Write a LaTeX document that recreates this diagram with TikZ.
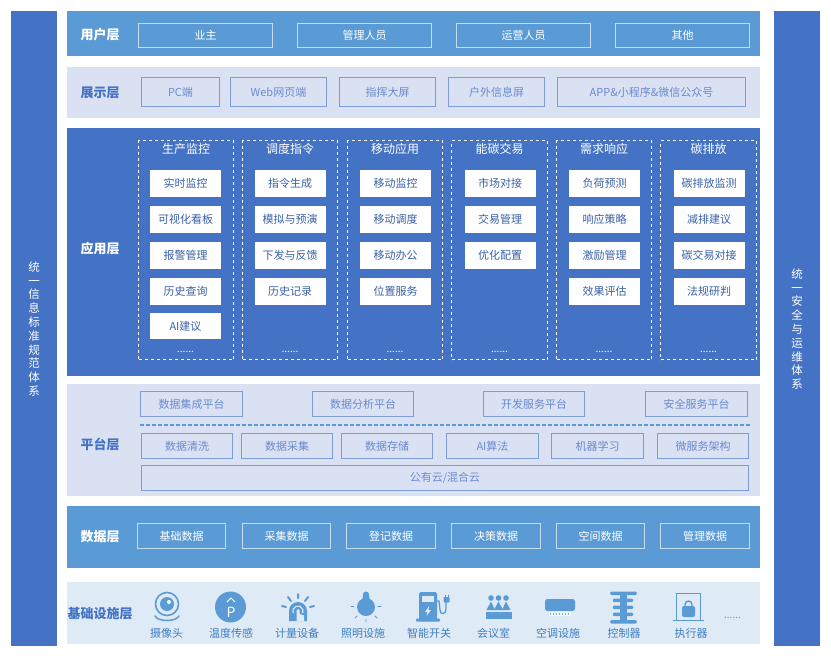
\documentclass[tikz,border=0pt]{standalone}
\usepackage{fontspec}
\setmainfont{Noto Sans CJK SC}
\usepackage{xcolor}
\usetikzlibrary{positioning}
\definecolor{barblue}{HTML}{4472C4}
\definecolor{midblue}{HTML}{5B9BD5}
\definecolor{paleblue}{HTML}{DAE1F3}
\definecolor{skyblue}{HTML}{DEEAF6}
\definecolor{softtext}{HTML}{6A8BCF}
\definecolor{softline}{HTML}{7E9BDA}
\definecolor{iconblue}{HTML}{5B9BD5}
\definecolor{capblue}{HTML}{3F7FC1}
\tikzset{
    band/.style={inner sep=0, outer sep=0, draw=none},
    sidebar/.style={band, fill=barblue, minimum width=46, minimum height=635},
    sidetext/.style={align=center, text=white, font=\fontsize{11.5}{13.8}\selectfont},
    layertag/.style={font=\fontsize{13}{15}\selectfont\bfseries},
    linebox/.style={band, draw=#1, line width=1pt, font=\fontsize{11}{13}\selectfont},
    darkbox/.style={linebox=white!65!midblue, text=white, minimum height=24},
    softbox/.style={linebox=softline, text=softtext, minimum height=25},
    plainbox/.style={band, fill=white, text=barblue!85!black, minimum width=71, minimum height=27, font=\fontsize{11}{13}\selectfont},
    groupbox/.style={band, draw=white, dashed, line width=0.8pt, minimum width=95, minimum height=219},
    grouptitle/.style={text=white, font=\fontsize{12}{14}\selectfont},
    moredots/.style={text=white, font=\fontsize{10}{10}\selectfont},
    iconcap/.style={text=capblue, font=\fontsize{11}{13}\selectfont},
    iconline/.style={draw=iconblue, line width=1.3pt, line cap=round}
}
\begin{document}
\begin{tikzpicture}[x=1pt, y=-1pt]
    \useasboundingbox (0, 0) rectangle (831, 657);

    % side bars
    \node[sidebar] (leftbar) at (34, 328.5) {};
    \node[sidebar] (rightbar) at (797, 328.5) {};
    \node[sidetext] (lefttext) at (34, 329) {统\\一\\信\\息\\标\\准\\规\\范\\体\\系};
    \node[sidetext] (righttext) at (797, 329) {统\\一\\安\\全\\与\\运\\维\\体\\系};

    % layers
    \node[band, fill=midblue, minimum width=693, minimum height=45] (userband) at (413.5, 33.5) {};
    \node[band, fill=paleblue, minimum width=693, minimum height=51] (showband) at (413.5, 92.5) {};
    \node[band, fill=barblue, minimum width=693, minimum height=248] (appband) at (413.5, 252) {};
    \node[band, fill=paleblue, minimum width=693, minimum height=112] (platband) at (413.5, 440) {};
    \node[band, fill=midblue, minimum width=693, minimum height=62] (databand) at (413.5, 536.5) {};
    \node[band, fill=skyblue, minimum width=693, minimum height=62] (baseband) at (413.5, 613) {};

    \node[layertag, text=white] (usertag) at (100, 35) {用户层};
    \node[layertag, text=barblue] (showtag) at (100, 93) {展示层};
    \node[layertag, text=white] (apptag) at (100, 249) {应用层};
    \node[layertag, text=barblue] (plattag) at (100, 444) {平台层};
    \node[layertag, text=white] (datatag) at (100, 537) {数据层};
    \node[layertag, text=barblue] (basetag) at (100, 614) {基础设施层};

    % user layer
    \node[darkbox, minimum width=134] (owner) at (205.5, 35.5) {业主};
    \node[darkbox, minimum width=134] (manager) at (364.5, 35.5) {管理人员};
    \node[darkbox, minimum width=134] (operator) at (523.5, 35.5) {运营人员};
    \node[darkbox, minimum width=134] (others) at (682.5, 35.5) {其他};

    % show layer
    \node[softbox, minimum width=78, minimum height=29] (pcend) at (180.5, 92) {PC端};
    \node[softbox, minimum width=96, minimum height=29] (webend) at (278.5, 92) {Web网页端};
    \node[softbox, minimum width=96, minimum height=29] (bigscreen) at (387.5, 92) {指挥大屏};
    \node[softbox, minimum width=96, minimum height=29] (outscreen) at (496.5, 92) {户外信息屏};
    \node[softbox, minimum width=188, minimum height=29] (append) at (651.5, 92) {APP\&小程序\&微信公众号};

    % app layer
    \node[groupbox] (groupa) at (186, 250) {};
    \node[groupbox] (groupb) at (290, 250) {};
    \node[groupbox] (groupc) at (395, 250) {};
    \node[groupbox, minimum width=96] (groupd) at (499.5, 250) {};
    \node[groupbox] (groupe) at (604, 250) {};
    \node[groupbox, minimum width=96] (groupf) at (708.5, 250) {};

    \node[grouptitle] (titlea) at (186, 149) {生产监控};
    \node[grouptitle] (titleb) at (290, 149) {调度指令};
    \node[grouptitle] (titlec) at (395, 149) {移动应用};
    \node[grouptitle] (titled) at (499.5, 149) {能碳交易};
    \node[grouptitle] (titlee) at (604, 149) {需求响应};
    \node[grouptitle] (titlef) at (708.5, 149) {碳排放};

    \node[plainbox] (a1) at (185.5, 183.5) {实时监控};
    \node[plainbox] (a2) at (185.5, 219.5) {可视化看板};
    \node[plainbox] (a3) at (185.5, 255.5) {报警管理};
    \node[plainbox] (a4) at (185.5, 291.5) {历史查询};
    \node[plainbox, minimum height=26] (a5) at (185.5, 326) {AI建议};

    \node[plainbox] (b1) at (290, 183.5) {指令生成};
    \node[plainbox] (b2) at (290, 219.5) {模拟与预演};
    \node[plainbox] (b3) at (290, 255.5) {下发与反馈};
    \node[plainbox] (b4) at (290, 291.5) {历史记录};

    \node[plainbox] (c1) at (395.5, 183.5) {移动监控};
    \node[plainbox] (c2) at (395.5, 219.5) {移动调度};
    \node[plainbox] (c3) at (395.5, 255.5) {移动办公};
    \node[plainbox] (c4) at (395.5, 291.5) {位置服务};

    \node[plainbox] (d1) at (500, 183.5) {市场对接};
    \node[plainbox] (d2) at (500, 219.5) {交易管理};
    \node[plainbox] (d3) at (500, 255.5) {优化配置};

    \node[plainbox] (e1) at (604.5, 183.5) {负荷预测};
    \node[plainbox] (e2) at (604.5, 219.5) {响应策略};
    \node[plainbox] (e3) at (604.5, 255.5) {激励管理};
    \node[plainbox] (e4) at (604.5, 291.5) {效果评估};

    \node[plainbox] (f1) at (709, 183.5) {碳排放监测};
    \node[plainbox] (f2) at (709, 219.5) {减排建议};
    \node[plainbox] (f3) at (709, 255.5) {碳交易对接};
    \node[plainbox] (f4) at (709, 291.5) {法规研判};

    \node[moredots] (dotsa) at (185.5, 352) {......};
    \node[moredots] (dotsb) at (290, 352) {......};
    \node[moredots] (dotsc) at (395, 352) {......};
    \node[moredots] (dotsd) at (499.5, 352) {......};
    \node[moredots] (dotse) at (604, 352) {......};
    \node[moredots] (dotsf) at (708.5, 352) {......};

    % platform layer
    \node[softbox, minimum width=102] (collect) at (191.5, 404) {数据集成平台};
    \node[softbox, minimum width=101] (analyse) at (363, 404) {数据分析平台};
    \node[softbox, minimum width=101] (devserve) at (534, 404) {开发服务平台};
    \node[softbox, minimum width=102] (safeserve) at (696.5, 404) {安全服务平台};

    \coordinate (splitl) at (140, 425);
    \coordinate (splitr) at (750, 425);
    \draw[iconblue, line width=1.2pt, dash pattern=on 4pt off 2pt] (splitl) -- (splitr);

    \node[softbox, minimum width=91] (clean) at (187, 446) {数据清洗};
    \node[softbox, minimum width=91] (gather) at (287, 446) {数据采集};
    \node[softbox, minimum width=91] (store) at (387, 446) {数据存储};
    \node[softbox, minimum width=92] (aialg) at (492.5, 446) {AI算法};
    \node[softbox, minimum width=92] (mlearn) at (597.5, 446) {机器学习};
    \node[softbox, minimum width=91] (micro) at (703, 446) {微服务架构};
    \node[softbox, minimum width=607] (cloud) at (445, 478) {公有云/混合云};

    % data layer
    \node[darkbox, minimum width=88, minimum height=25] (basedata) at (181.5, 536) {基础数据};
    \node[darkbox, minimum width=88, minimum height=25] (gatherdata) at (286.5, 536) {采集数据};
    \node[darkbox, minimum width=89, minimum height=25] (logdata) at (391, 536) {登记数据};
    \node[darkbox, minimum width=89, minimum height=25] (decidedata) at (496, 536) {决策数据};
    \node[darkbox, minimum width=88, minimum height=25] (spacedata) at (600.5, 536) {空间数据};
    \node[darkbox, minimum width=89, minimum height=25] (managedata) at (705, 536) {管理数据};

    % base layer captions
    \node[iconcap] (capa) at (166.5, 633) {摄像头};
    \node[iconcap] (capb) at (231, 633) {温度传感};
    \node[iconcap] (capc) at (297, 633) {计量设备};
    \node[iconcap] (capd) at (363, 633) {照明设施};
    \node[iconcap] (cape) at (429, 633) {智能开关};
    \node[iconcap] (capf) at (493.5, 633) {会议室};
    \node[iconcap] (capg) at (558, 633) {空调设施};
    \node[iconcap] (caph) at (624, 633) {控制器};
    \node[iconcap] (capi) at (691, 633) {执行器};
    \node[text=iconblue, font=\fontsize{10}{10}\selectfont] (dotsbase) at (732.5, 618) {......};

    % camera
    \draw[iconline, line width=1.6pt] (167, 604) circle (11.5);
    \fill[iconblue] (167, 604) circle (7);
    \fill[white] (169, 602) circle (2);
    \draw[iconline, line width=1.5pt] (155, 616) .. controls (158, 622) and (176, 622) .. (179, 616);

    % temperature
    \fill[iconblue] (230.5, 607) circle (15.5);
    \node[text=white, font=\fontsize{14}{14}\selectfont, inner sep=0] (plabel) at (231, 612) {P};
    \draw[white, line width=0.9pt] (227, 602) -- (231, 598) -- (235, 602);

    % meter
    \draw[iconline, line width=2pt]
    (298, 594) -- (298, 598)
    (288, 597) -- (291, 601)
    (308, 597) -- (305, 601)
    (282, 606) -- (286, 607)
    (314, 606) -- (310, 607);
    \fill[iconblue] (289, 621) -- (289, 611) arc[start angle=180, end angle=360, radius=9] -- (307, 621) -- cycle;
    \draw[skyblue, line width=1.1pt] (293, 613) arc[start angle=160, end angle=380, radius=5.2];
    \fill[skyblue] (296.5, 621) -- (296.5, 610.5) arc[start angle=180, end angle=360, radius=1.6] -- (299.7, 614) -- (304, 615.5) -- (304, 621) -- cycle;

    % lamp
    \fill[iconblue] (366, 607) circle (9);
    \fill[iconblue] (362.5, 600) -- (363, 594.5) arc[start angle=180, end angle=360, radius=3] -- (369.5, 600) -- cycle;
    \draw[iconline, line width=0.9pt]
    (351, 606.5) -- (354, 606.5)
    (378, 606.5) -- (381, 606.5)
    (355, 618) -- (357, 616)
    (377, 618) -- (375, 616)
    (366, 619) -- (366, 622);

    % pump
    \fill[iconblue, rounded corners=1.5] (419, 621) -- (419, 592) -- (437, 592) -- (437, 621) -- cycle;
    \fill[iconblue, rounded corners=0.8] (416, 618.5) rectangle (440, 621.5);
    \fill[skyblue] (422, 595.5) rectangle (434, 601.5);
    \fill[skyblue] (429, 606) -- (425, 612) -- (427.5, 612) -- (426.5, 616) -- (431, 610) -- (428.5, 610) -- cycle;
    \draw[iconline] (437, 601) -- (439, 601) -- (440, 610) .. controls (440, 615) and (446, 615) .. (446, 609) -- (446, 602);
    \fill[iconblue, rounded corners=0.8] (443.5, 597) rectangle (449.5, 602.5);
    \draw[iconline, line width=0.8pt] (445, 597) -- (445, 595) (448, 597) -- (448, 595);

    % meeting room
    \fill[iconblue] (491, 598) circle (2.8);
    \fill[iconblue] (498.5, 598) circle (2.8);
    \fill[iconblue] (506, 598) circle (2.8);
    \fill[iconblue] (491, 601.5) -- (495, 610) -- (486.5, 610) -- cycle;
    \fill[iconblue] (498.5, 601.5) -- (503, 610) -- (494, 610) -- cycle;
    \fill[iconblue] (506, 601.5) -- (510.5, 610) -- (502, 610) -- cycle;
    \fill[iconblue] (486, 611.5) rectangle (511.5, 619);

    % air conditioner
    \fill[white!60!skyblue] (549, 609.5) rectangle (571, 616);
    \fill[iconblue, rounded corners=2.5] (545, 611) -- (545, 599) -- (575, 599) -- (575, 611) -- cycle;
    \draw[iconblue!80, line width=2pt, dash pattern=on 1pt off 2pt] (550, 614) -- (570, 614);

    % controller
    \fill[iconblue, rounded corners=1.5] (610, 591.5) rectangle (637, 595);
    \fill[iconblue, rounded corners=1.5] (610, 620) rectangle (637, 623.5);
    \fill[iconblue] (620, 592) rectangle (627, 623);
    \fill[iconblue, rounded corners=1] (613, 598.5) rectangle (633, 602);
    \fill[iconblue, rounded corners=1] (613, 605.5) rectangle (633, 609);
    \fill[iconblue, rounded corners=1] (613, 612.5) rectangle (633, 616);

    % actuator
    \draw[iconline, line cap=butt, line width=1.2pt] (676.5, 620) -- (676.5, 593.5) -- (700.5, 593.5) -- (700.5, 620);
    \draw[iconline, line width=1.3pt] (673.5, 620.5) -- (703.5, 620.5);
    \fill[iconblue, rounded corners=2] (682, 606) rectangle (695, 617);
    \draw[iconline, line width=1.4pt] (685, 606) -- (685, 604.5) arc[start angle=180, end angle=360, radius=3.5] -- (692, 606);
\end{tikzpicture}
\end{document}
